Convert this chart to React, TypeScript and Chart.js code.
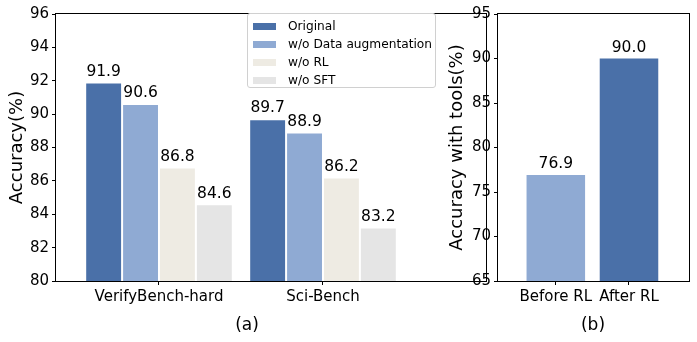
import React, { useEffect, useRef } from "react";
import { Chart, registerables } from "chart.js";

Chart.register(...registerables);

// ---- Data ----
const GROUPS = ["VerifyBench-hard", "Sci-Bench"];
const SERIES_NAMES = ["Original", "w/o Data augmentation", "w/o RL", "w/o SFT"];
const ORIGINAL = [91.9, 89.7];
const NO_DATA_AUG = [90.6, 88.9];
const NO_RL = [86.8, 86.2];
const NO_SFT = [84.6, 83.2];
const SERIES_COLORS = ["#4a70a8", "#8faad3", "#eeebe3", "#e5e5e5"];
const Y_MIN_A = 80;
const Y_MAX_A = 96;
const Y_STEP_A = 2;

const RL_STAGES = ["Before RL", "After RL"];
const TOOL_ACCURACY = [76.9, 90.0];
const RL_COLORS = ["#8faad3", "#4a70a8"];
const Y_MIN_B = 65;
const Y_MAX_B = 95;
const Y_STEP_B = 5;

const FONT = "'DejaVu Sans', 'Liberation Sans', sans-serif";

const framePlugin = {
  id: "frame",
  afterDraw(chart: any) {
    const { ctx, chartArea } = chart;
    const { left, top, right, bottom } = chartArea;
    ctx.save();
    ctx.strokeStyle = "#000";
    ctx.lineWidth = 1;
    ctx.strokeRect(Math.round(left) - 0.5, Math.round(top) - 0.5, Math.round(right - left) + 1, Math.round(bottom - top) + 1);
    ctx.restore();
  },
};

const valueLabelPlugin = {
  id: "valueLabels",
  afterDatasetsDraw(chart: any) {
    const { ctx } = chart;
    ctx.save();
    ctx.font = `15.5px ${FONT}`;
    ctx.fillStyle = "#000";
    ctx.textAlign = "center";
    ctx.textBaseline = "bottom";
    chart.data.datasets.forEach((ds: any, i: number) => {
      const meta = chart.getDatasetMeta(i);
      meta.data.forEach((el: any, j: number) => {
        const v = ds.data[j].y;
        ctx.fillText(v.toFixed(1), el.x, el.y - 3);
      });
    });
    ctx.restore();
  },
};

function makeOptions(opts: {
  xMin: number;
  xMax: number;
  labels: string[];
  yMin: number;
  yMax: number;
  yStep: number;
  yTitle: string;
  yWidth: number;
  categoryPercentage: number;
  barPercentage: number;
}) {
  return {
    responsive: false,
    animation: false as const,
    devicePixelRatio: 1,
    layout: { padding: { left: 0, right: 8, top: 14, bottom: 0 } },
    plugins: {
      legend: { display: false },
      tooltip: { enabled: false },
      title: { display: false },
    },
    datasets: {
      bar: {
        categoryPercentage: opts.categoryPercentage,
        barPercentage: opts.barPercentage,
      },
    },
    scales: {
      x: {
        type: "linear" as const,
        min: opts.xMin,
        max: opts.xMax,
        offset: false,
        bounds: "data" as const,
        afterBuildTicks: (axis: any) => {
          axis.ticks = opts.labels.map((_, i) => ({ value: i }));
        },
        afterFit: (s: any) => {
          s.height = 61;
        },
        ticks: {
          autoSkip: false,
          maxRotation: 0,
          padding: 3,
          color: "#000",
          font: { family: FONT, size: 15 },
          callback: (v: any) => opts.labels[Math.round(Number(v))] ?? "",
        },
        grid: { offset: false, drawOnChartArea: false, drawTicks: true, tickLength: 4, color: "#000" },
        border: { display: false },
      },
      y: {
        min: opts.yMin,
        max: opts.yMax,
        afterFit: (s: any) => {
          s.width = opts.yWidth;
        },
        ticks: {
          stepSize: opts.yStep,
          padding: 3,
          color: "#000",
          font: { family: FONT, size: 15 },
        },
        grid: { drawOnChartArea: false, drawTicks: true, tickLength: 4, color: "#000" },
        border: { display: false },
        title: {
          display: true,
          text: opts.yTitle,
          color: "#000",
          font: { family: FONT, size: 18 },
          padding: { top: 7, bottom: 0 },
        },
      },
    },
  };
}

function AblationChart() {
  const ref = useRef<HTMLCanvasElement | null>(null);
  useEffect(() => {
    if (!ref.current) return;
    const seriesValues = [ORIGINAL, NO_DATA_AUG, NO_RL, NO_SFT];
    const chart = new Chart(ref.current, {
      type: "bar",
      data: {
        datasets: SERIES_NAMES.map((name, i) => ({
          label: name,
          data: GROUPS.map((_, j) => ({ x: j, y: seriesValues[i][j] })),
          backgroundColor: SERIES_COLORS[i],
          borderColor: "#ffffff",
          borderWidth: 1,
          borderSkipped: "start" as const,
        })),
      },
      options: makeOptions({
        xMin: -0.628,
        xMax: 1.994,
        labels: GROUPS,
        yMin: Y_MIN_A,
        yMax: Y_MAX_A,
        yStep: Y_STEP_A,
        yTitle: "Accuracy(%)",
        yWidth: 56,
        categoryPercentage: 0.9,
        barPercentage: 1,
      }) as any,
      plugins: [framePlugin, valueLabelPlugin],
    });
    return () => chart.destroy();
  }, []);
  return (
    <canvas
      ref={ref}
      width={494}
      height={342}
      style={{ position: "absolute", left: 0, top: 0, width: 494, height: 342 }}
    />
  );
}

function ToolsChart() {
  const ref = useRef<HTMLCanvasElement | null>(null);
  useEffect(() => {
    if (!ref.current) return;
    const chart = new Chart(ref.current, {
      type: "bar",
      data: {
        datasets: [
          {
            label: "Accuracy with tools",
            data: RL_STAGES.map((_, j) => ({ x: j, y: TOOL_ACCURACY[j] })),
            backgroundColor: RL_COLORS,
            borderColor: "#ffffff",
            borderWidth: 0,
          },
        ],
      },
      options: makeOptions({
        xMin: -0.79,
        xMax: 1.82,
        labels: RL_STAGES,
        yMin: Y_MIN_B,
        yMax: Y_MAX_B,
        yStep: Y_STEP_B,
        yTitle: "Accuracy with tools(%)",
        yWidth: 58,
        categoryPercentage: 1,
        barPercentage: 0.8,
      }) as any,
      plugins: [framePlugin, valueLabelPlugin],
    });
    return () => chart.destroy();
  }, []);
  return (
    <canvas
      ref={ref}
      width={257}
      height={342}
      style={{ position: "absolute", left: 440, top: 0, width: 257, height: 342 }}
    />
  );
}

function Legend() {
  return (
    <div
      style={{
        position: "absolute",
        left: 247,
        top: 13,
        width: 189,
        height: 75,
        boxSizing: "border-box",
        border: "1px solid #d0d0d0",
        borderRadius: 3,
        background: "rgba(255,255,255,0.85)",
        fontFamily: FONT,
        fontSize: 12.2,
        color: "#000",
      }}
    >
      {SERIES_NAMES.map((name, i) => (
        <div
          key={name}
          style={{ position: "absolute", left: 5, top: 3 + i * 18, height: 18, display: "flex", alignItems: "center", whiteSpace: "nowrap" }}
        >
          <span style={{ display: "inline-block", width: 23, height: 7, background: SERIES_COLORS[i], marginRight: 12 }} />
          <span>{name}</span>
        </div>
      ))}
    </div>
  );
}

function SubLabel({ text, center }: { text: string; center: number }) {
  return (
    <div
      style={{
        position: "absolute",
        left: center - 40,
        width: 80,
        top: 313,
        textAlign: "center",
        fontFamily: FONT,
        fontSize: 17,
        lineHeight: "22px",
        color: "#000",
      }}
    >
      {text}
    </div>
  );
}

export default function App() {
  return (
    <div style={{ position: "absolute", left: 0, top: 0, width: 697, height: 342, background: "#fff", overflow: "hidden" }}>
      <AblationChart />
      <ToolsChart />
      <Legend />
      <SubLabel text="(a)" center={247} />
      <SubLabel text="(b)" center={593} />
    </div>
  );
}
